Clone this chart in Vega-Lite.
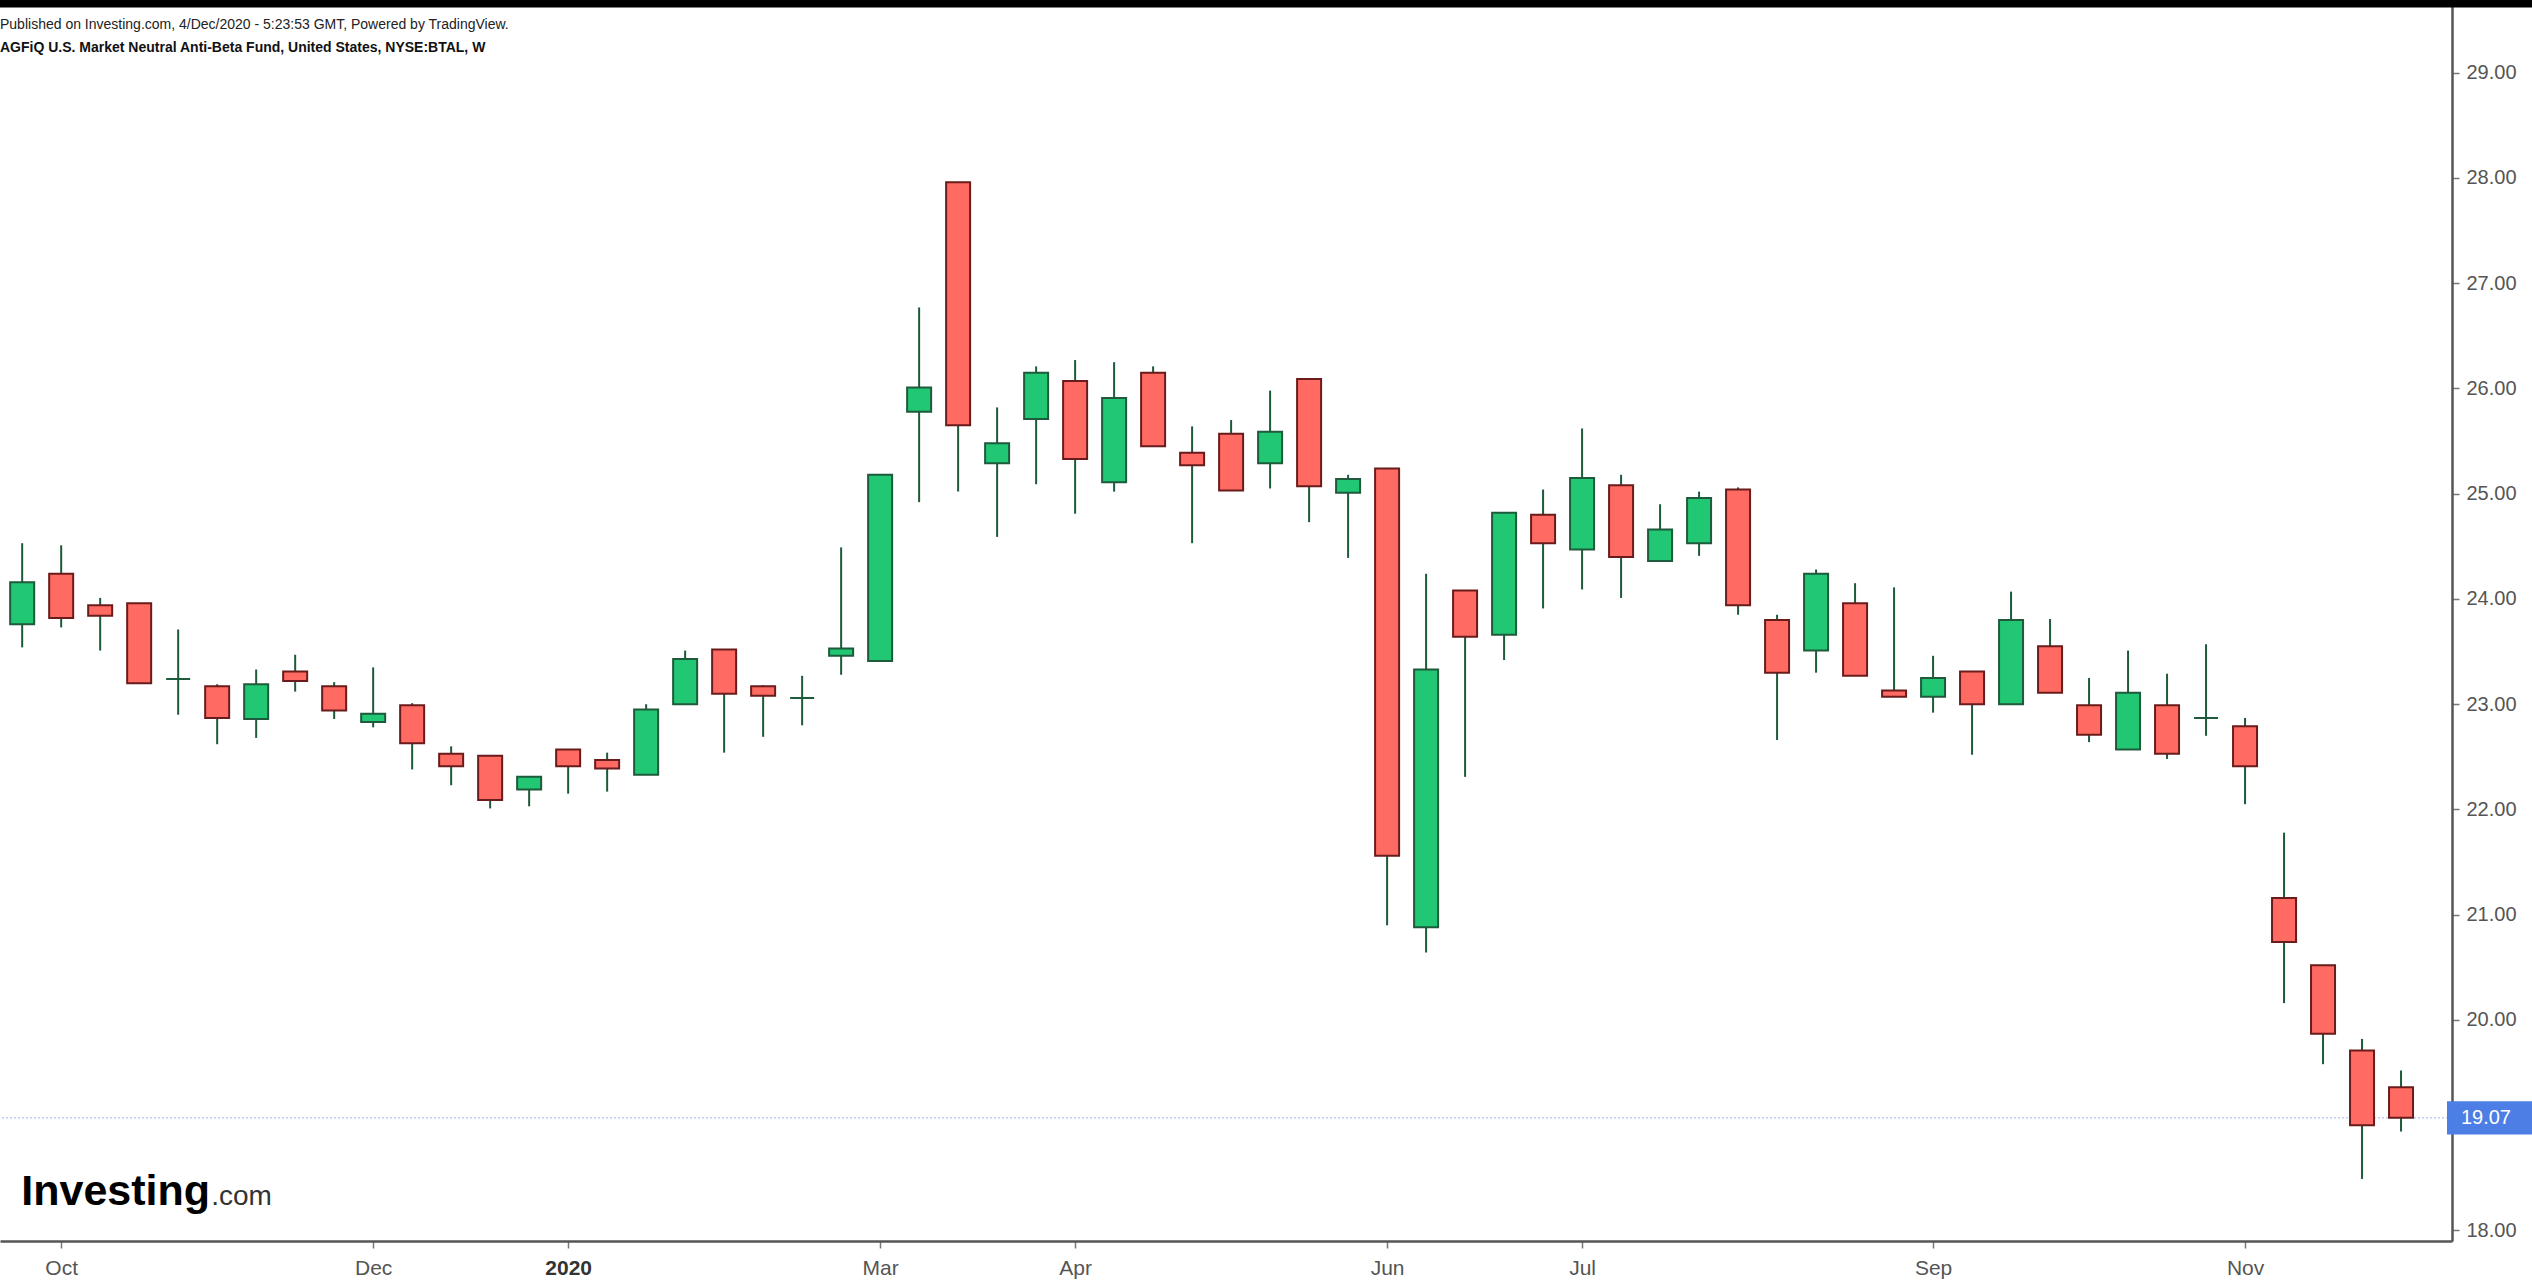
{
  "$schema": "https://vega.github.io/schema/vega-lite/v6.json",
  "autosize": "none",
  "width": 2452,
  "height": 1241,
  "padding": {"left": 0, "top": 0, "right": 80, "bottom": 43},
  "background": "white",
  "title": {
    "text": "Published on Investing.com, 4/Dec/2020 - 5:23:53 GMT, Powered by TradingView.",
    "subtitle": "AGFiQ U.S. Market Neutral Anti-Beta Fund, United States, NYSE:BTAL, W",
    "anchor": "start",
    "frame": "group",
    "orient": "top",
    "font": "Liberation Sans",
    "fontSize": 14,
    "fontWeight": "normal",
    "color": "#222222",
    "subtitleFont": "Liberation Sans",
    "subtitleFontSize": 14,
    "subtitleFontWeight": "bold",
    "subtitleColor": "#111111",
    "subtitlePadding": 9,
    "dy": 86
  },
  "datasets": {
    "candles": [
      {"date": "2019-09-30", "open": 23.76, "high": 24.53, "low": 23.54, "close": 24.16},
      {"date": "2019-10-07", "open": 24.24, "high": 24.51, "low": 23.73, "close": 23.82},
      {"date": "2019-10-14", "open": 23.94, "high": 24.01, "low": 23.51, "close": 23.84},
      {"date": "2019-10-21", "open": 23.96, "high": 23.96, "low": 23.20, "close": 23.20},
      {"date": "2019-10-28", "open": 23.24, "high": 23.71, "low": 22.90, "close": 23.24},
      {"date": "2019-11-04", "open": 23.17, "high": 23.19, "low": 22.62, "close": 22.87},
      {"date": "2019-11-11", "open": 22.86, "high": 23.33, "low": 22.68, "close": 23.19},
      {"date": "2019-11-18", "open": 23.31, "high": 23.47, "low": 23.12, "close": 23.22},
      {"date": "2019-11-25", "open": 23.17, "high": 23.21, "low": 22.86, "close": 22.94},
      {"date": "2019-12-02", "open": 22.83, "high": 23.35, "low": 22.78, "close": 22.91},
      {"date": "2019-12-09", "open": 22.99, "high": 23.01, "low": 22.38, "close": 22.63},
      {"date": "2019-12-16", "open": 22.53, "high": 22.60, "low": 22.23, "close": 22.41},
      {"date": "2019-12-23", "open": 22.51, "high": 22.51, "low": 22.01, "close": 22.09},
      {"date": "2019-12-30", "open": 22.19, "high": 22.31, "low": 22.03, "close": 22.31},
      {"date": "2020-01-06", "open": 22.57, "high": 22.57, "low": 22.15, "close": 22.41},
      {"date": "2020-01-13", "open": 22.47, "high": 22.54, "low": 22.17, "close": 22.39},
      {"date": "2020-01-20", "open": 22.33, "high": 23.00, "low": 22.33, "close": 22.95},
      {"date": "2020-01-27", "open": 23.00, "high": 23.51, "low": 23.00, "close": 23.43},
      {"date": "2020-02-03", "open": 23.52, "high": 23.52, "low": 22.54, "close": 23.10},
      {"date": "2020-02-10", "open": 23.17, "high": 23.18, "low": 22.69, "close": 23.08},
      {"date": "2020-02-17", "open": 23.06, "high": 23.27, "low": 22.80, "close": 23.06},
      {"date": "2020-02-24", "open": 23.46, "high": 24.49, "low": 23.28, "close": 23.53},
      {"date": "2020-03-02", "open": 23.41, "high": 25.18, "low": 23.41, "close": 25.18},
      {"date": "2020-03-09", "open": 25.78, "high": 26.77, "low": 24.92, "close": 26.01},
      {"date": "2020-03-16", "open": 27.96, "high": 27.96, "low": 25.02, "close": 25.65},
      {"date": "2020-03-23", "open": 25.29, "high": 25.82, "low": 24.59, "close": 25.48},
      {"date": "2020-03-30", "open": 25.71, "high": 26.21, "low": 25.09, "close": 26.15},
      {"date": "2020-04-06", "open": 26.07, "high": 26.27, "low": 24.81, "close": 25.33},
      {"date": "2020-04-13", "open": 25.11, "high": 26.25, "low": 25.02, "close": 25.91},
      {"date": "2020-04-20", "open": 26.15, "high": 26.21, "low": 25.45, "close": 25.45},
      {"date": "2020-04-27", "open": 25.39, "high": 25.64, "low": 24.53, "close": 25.27},
      {"date": "2020-05-04", "open": 25.57, "high": 25.70, "low": 25.03, "close": 25.03},
      {"date": "2020-05-11", "open": 25.29, "high": 25.98, "low": 25.05, "close": 25.59},
      {"date": "2020-05-18", "open": 26.09, "high": 26.09, "low": 24.73, "close": 25.07},
      {"date": "2020-05-25", "open": 25.01, "high": 25.18, "low": 24.39, "close": 25.14},
      {"date": "2020-06-01", "open": 25.24, "high": 25.24, "low": 20.90, "close": 21.56},
      {"date": "2020-06-08", "open": 20.88, "high": 24.24, "low": 20.64, "close": 23.33},
      {"date": "2020-06-15", "open": 24.08, "high": 24.08, "low": 22.31, "close": 23.64},
      {"date": "2020-06-22", "open": 23.66, "high": 24.82, "low": 23.42, "close": 24.82},
      {"date": "2020-06-29", "open": 24.80, "high": 25.04, "low": 23.91, "close": 24.53},
      {"date": "2020-07-06", "open": 24.47, "high": 25.62, "low": 24.09, "close": 25.15},
      {"date": "2020-07-13", "open": 25.08, "high": 25.18, "low": 24.01, "close": 24.40},
      {"date": "2020-07-20", "open": 24.36, "high": 24.90, "low": 24.36, "close": 24.66},
      {"date": "2020-07-27", "open": 24.53, "high": 25.02, "low": 24.41, "close": 24.96},
      {"date": "2020-08-03", "open": 25.04, "high": 25.06, "low": 23.85, "close": 23.94},
      {"date": "2020-08-10", "open": 23.80, "high": 23.85, "low": 22.66, "close": 23.30},
      {"date": "2020-08-17", "open": 23.51, "high": 24.28, "low": 23.30, "close": 24.24},
      {"date": "2020-08-24", "open": 23.96, "high": 24.15, "low": 23.27, "close": 23.27},
      {"date": "2020-08-31", "open": 23.13, "high": 24.11, "low": 23.07, "close": 23.07},
      {"date": "2020-09-07", "open": 23.07, "high": 23.46, "low": 22.92, "close": 23.25},
      {"date": "2020-09-14", "open": 23.31, "high": 23.31, "low": 22.52, "close": 23.00},
      {"date": "2020-09-21", "open": 23.00, "high": 24.07, "low": 23.00, "close": 23.80},
      {"date": "2020-09-28", "open": 23.55, "high": 23.81, "low": 23.11, "close": 23.11},
      {"date": "2020-10-05", "open": 22.99, "high": 23.25, "low": 22.64, "close": 22.71},
      {"date": "2020-10-12", "open": 22.57, "high": 23.51, "low": 22.57, "close": 23.11},
      {"date": "2020-10-19", "open": 22.99, "high": 23.29, "low": 22.48, "close": 22.53},
      {"date": "2020-10-26", "open": 22.87, "high": 23.57, "low": 22.70, "close": 22.87},
      {"date": "2020-11-02", "open": 22.79, "high": 22.87, "low": 22.05, "close": 22.41},
      {"date": "2020-11-09", "open": 21.16, "high": 21.78, "low": 20.16, "close": 20.74},
      {"date": "2020-11-16", "open": 20.52, "high": 20.52, "low": 19.58, "close": 19.87},
      {"date": "2020-11-23", "open": 19.71, "high": 19.82, "low": 18.49, "close": 19.00},
      {"date": "2020-11-30", "open": 19.36, "high": 19.52, "low": 18.94, "close": 19.07}
    ],
    "last": [{"price": 19.07, "label": "19.07"}],
    "logo": [{"name": "Investing", "suffix": ".com"}],
    "header": [{"name": "bar"}]
  },
  "layer": [
    {
      "data": {"name": "header"},
      "mark": {"type": "rect", "color": "#000000", "clip": false},
      "encoding": {
        "x": {"datum": {"year": 2019, "month": 9, "date": 1, "utc": true}, "type": "temporal"},
        "x2": {"datum": {"year": 2021, "month": 2, "date": 1, "utc": true}},
        "y": {"datum": 29.95, "type": "quantitative"},
        "y2": {"datum": 29.62}
      }
    },
    {
      "data": {"name": "last"},
      "mark": {"type": "rule", "color": "#9fb1f0", "strokeDash": [2, 2], "strokeWidth": 1},
      "encoding": {
        "y": {"field": "price", "type": "quantitative"}
      }
    },
    {
      "data": {"name": "candles"},
      "mark": {"type": "rule", "color": "#1d5a3a", "strokeWidth": 2},
      "encoding": {
        "x": {
          "field": "date",
          "type": "temporal",
          "scale": {
            "type": "utc",
            "domain": [
              {"year": 2019, "month": 9, "date": 26, "hours": 22, "utc": true},
              {"year": 2020, "month": 12, "date": 8, "hours": 6, "utc": true}
            ]
          },
          "axis": {
            "title": null,
            "grid": false,
            "values": [
              {"year": 2019, "month": 10, "date": 7, "utc": true},
              {"year": 2019, "month": 12, "date": 2, "utc": true},
              {"year": 2020, "month": 1, "date": 6, "utc": true},
              {"year": 2020, "month": 3, "date": 2, "utc": true},
              {"year": 2020, "month": 4, "date": 6, "utc": true},
              {"year": 2020, "month": 6, "date": 1, "utc": true},
              {"year": 2020, "month": 7, "date": 6, "utc": true},
              {"year": 2020, "month": 9, "date": 7, "utc": true},
              {"year": 2020, "month": 11, "date": 2, "utc": true}
            ],
            "labelExpr": "utcmonth(datum.value) == 0 ? '2020' : utcFormat(datum.value, '%b')",
            "labelFont": "Liberation Sans",
            "labelFontSize": 21,
            "labelFontWeight": {"condition": {"test": "utcmonth(datum.value) == 0", "value": "bold"}, "value": "normal"},
            "labelColor": {"condition": {"test": "utcmonth(datum.value) == 0", "value": "#333333"}, "value": "#555555"},
            "labelPadding": 9,
            "labelFlush": false,
            "labelOverlap": false,
            "domainColor": "#555555",
            "domainWidth": 2.5,
            "tickColor": "#777777",
            "tickSize": 7,
            "tickWidth": 1.5
          }
        },
        "y": {
          "field": "low",
          "type": "quantitative",
          "scale": {"domain": [17.9, 29.691], "nice": false, "zero": false},
          "axis": {
            "orient": "right",
            "title": null,
            "grid": false,
            "values": [18, 20, 21, 22, 23, 24, 25, 26, 27, 28, 29],
            "format": ".2f",
            "labelFont": "Liberation Sans",
            "labelFontSize": 20,
            "labelColor": "#555555",
            "labelPadding": 7,
            "labelBaseline": "middle",
            "domainColor": "#555555",
            "domainWidth": 2.5,
            "tickColor": "#777777",
            "tickSize": 7,
            "tickWidth": 1.5
          }
        },
        "y2": {"field": "high"}
      }
    },
    {
      "data": {"name": "candles"},
      "mark": {"type": "bar", "size": 24, "strokeWidth": 2},
      "encoding": {
        "x": {"field": "date", "type": "temporal"},
        "y": {"field": "open", "type": "quantitative"},
        "y2": {"field": "close"},
        "fill": {"condition": {"test": "datum.close >= datum.open", "value": "#22c774"}, "value": "#ff6b62"},
        "stroke": {"condition": {"test": "datum.close >= datum.open", "value": "#1e5a3b"}, "value": "#6a1b1b"}
      }
    },
    {
      "data": {"name": "logo"},
      "mark": {"type": "text", "align": "left", "baseline": "alphabetic", "font": "Liberation Sans", "fontSize": 43, "fontWeight": "bold", "color": "#000000", "clip": false},
      "encoding": {
        "x": {"datum": {"year": 2019, "month": 9, "date": 29, "hours": 20, "utc": true}, "type": "temporal"},
        "y": {"datum": 18.24, "type": "quantitative"},
        "text": {"field": "name"}
      }
    },
    {
      "data": {"name": "logo"},
      "mark": {"type": "text", "align": "left", "baseline": "alphabetic", "font": "Liberation Sans", "fontSize": 28, "fontWeight": "normal", "color": "#333333", "dx": 190, "clip": false},
      "encoding": {
        "x": {"datum": {"year": 2019, "month": 9, "date": 29, "hours": 20, "utc": true}, "type": "temporal"},
        "y": {"datum": 18.24, "type": "quantitative"},
        "text": {"field": "suffix"}
      }
    },
    {
      "data": {"name": "last"},
      "mark": {"type": "rect", "color": "#4c7ee6", "clip": false},
      "encoding": {
        "x": {"datum": {"year": 2020, "month": 12, "date": 8, "hours": 6, "utc": true}, "type": "temporal"},
        "x2": {"datum": {"year": 2021, "month": 1, "date": 10, "utc": true}},
        "y": {"datum": 19.227, "type": "quantitative"},
        "y2": {"datum": 18.913}
      }
    },
    {
      "data": {"name": "last"},
      "mark": {"type": "text", "align": "left", "baseline": "middle", "font": "Liberation Sans", "fontSize": 20, "color": "#ffffff", "clip": false},
      "encoding": {
        "x": {"datum": {"year": 2020, "month": 12, "date": 10, "hours": 18, "utc": true}, "type": "temporal"},
        "y": {"field": "price", "type": "quantitative"},
        "text": {"field": "label"}
      }
    }
  ],
  "config": {
    "view": {"stroke": null},
    "font": "Liberation Sans"
  }
}
